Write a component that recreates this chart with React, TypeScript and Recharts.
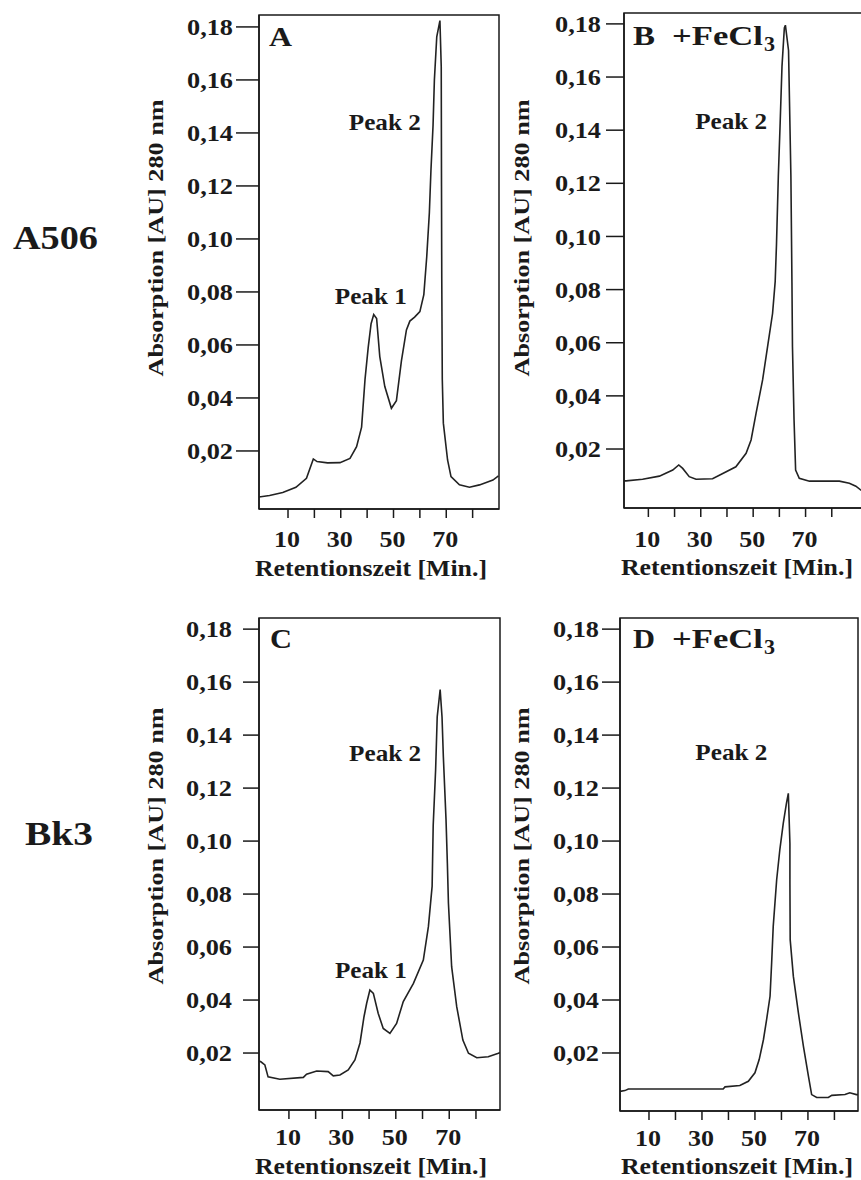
import { Line, LineChart, ReferenceArea, ReferenceDot, XAxis, YAxis } from 'recharts'

const serif = '"Liberation Serif", "Times New Roman", serif'
const ink = '#1a1a1a'

// A506 (Retentionszeit in Min., Absorption in AU)
const timeA = [-1, 3, 8, 13, 17, 19.6, 21, 25, 29.7, 33.5, 36, 37.9, 39.2, 40.4, 41.5, 42.5, 43.6, 44.8, 46.7, 49.2, 51.1, 53, 54.9, 56.2, 58, 60, 61.5, 62.6, 63.6, 64.2, 65, 65.5, 66.4, 67.6, 68.1, 68.2, 68.3, 68.5, 68.9, 70.5, 71.8, 75, 78.8, 82.6, 87.7, 89.8]
const absA = [0.0026, 0.0032, 0.0043, 0.0063, 0.0097, 0.017, 0.016, 0.0155, 0.0156, 0.0172, 0.0216, 0.029, 0.047, 0.059, 0.068, 0.0715, 0.07, 0.0556, 0.0443, 0.0361, 0.039, 0.054, 0.0657, 0.069, 0.0705, 0.0726, 0.079, 0.0933, 0.11, 0.126, 0.143, 0.16, 0.1763, 0.1824, 0.165, 0.12, 0.085, 0.047, 0.0305, 0.0166, 0.0103, 0.0072, 0.0063, 0.0072, 0.009, 0.0106]

// A506 + FeCl3
const timeB = [0.7, 1.5, 7.8, 14.2, 19.3, 21.6, 23.1, 25.6, 28.2, 34.5, 38.4, 43.4, 47.3, 49.2, 51.1, 53.6, 55.5, 57.4, 58.4, 58.9, 59.6, 60.3, 61, 61.9, 62.3, 63.5, 64.4, 64.8, 65, 65.6, 66.2, 67.6, 71.5, 82.9, 86.7, 89.2, 91, 92.3]
const absB = [0.008, 0.008, 0.0086, 0.0098, 0.0121, 0.014, 0.0127, 0.0096, 0.0086, 0.0088, 0.0108, 0.0133, 0.0184, 0.0234, 0.0334, 0.046, 0.0585, 0.071, 0.083, 0.097, 0.1226, 0.1427, 0.164, 0.1785, 0.1795, 0.17, 0.1226, 0.0825, 0.0585, 0.031, 0.0121, 0.009, 0.0079, 0.0079, 0.0071, 0.006, 0.0046, 0.004]

// Bk3
const timeC = [-1.2, -0.5, 1, 2.2, 6.6, 15.4, 16.6, 20.4, 24.7, 26.6, 29.1, 32.2, 34.7, 36.6, 38.1, 39.1, 40.3, 41.6, 43.4, 45.3, 47.8, 50.3, 52.8, 56.6, 60.3, 62.2, 63.6, 64, 64.9, 65.5, 66.6, 67.3, 67.8, 68.8, 69.3, 69.7, 70.9, 72.8, 75.1, 77.2, 80.3, 84.6, 88.4, 89]
const absC = [0.017, 0.0167, 0.0155, 0.011, 0.0101, 0.0108, 0.012, 0.0132, 0.013, 0.0114, 0.0117, 0.0136, 0.0174, 0.0238, 0.0337, 0.0388, 0.0438, 0.0425, 0.035, 0.0293, 0.0274, 0.0312, 0.0394, 0.0463, 0.0551, 0.0677, 0.083, 0.106, 0.1268, 0.1469, 0.1572, 0.1469, 0.1318, 0.108, 0.0916, 0.0765, 0.0526, 0.0375, 0.0249, 0.0199, 0.0182, 0.0186, 0.0199, 0.0202]

// Bk3 + FeCl3
const timeD = [-0.9, 0.9, 2.2, 38, 38.7, 44.3, 47.5, 50, 51.6, 53.2, 54.4, 55.7, 56.3, 56.9, 58.2, 59.4, 60.7, 61.9, 62.6, 63.2, 63.2, 63.3, 64.5, 66.4, 68.3, 70.2, 71.4, 73.3, 77.7, 79, 84, 85.8, 88.3, 88.9]
const absD = [0.0055, 0.0058, 0.0064, 0.0064, 0.0072, 0.0077, 0.0093, 0.0125, 0.0175, 0.025, 0.0326, 0.0414, 0.054, 0.0678, 0.0854, 0.0968, 0.1068, 0.1143, 0.118, 0.0992, 0.0842, 0.0628, 0.0489, 0.0351, 0.0225, 0.0112, 0.0043, 0.0032, 0.0032, 0.004, 0.0043, 0.005, 0.0043, 0.0043]

const absTicks = [0.02, 0.04, 0.06, 0.08, 0.1, 0.12, 0.14, 0.16, 0.18]
const timeTicks = [10, 20, 30, 40, 50, 60, 70, 80]
const timeLabels = [10, 30, 50, 70]

const rows = (t: number[], a: number[]) => t.map((x, i) => ({ t: x, a: a[i] }))

function AbsTick(props: any) {
  const { x, y, payload } = props
  return (
    <text x={x} y={y} dy="0.34em" textAnchor="end" fontFamily={serif} fontWeight="bold" fontSize={24} fill={ink} textLength={46} lengthAdjust="spacingAndGlyphs">
      {payload.value.toFixed(2).replace('.', ',')}
    </text>
  )
}

function TimeTick(props: any) {
  const { x, y, payload, dy } = props
  if (!timeLabels.includes(payload.value)) return <g />
  return (
    <text x={x - 1} y={y + dy} textAnchor="middle" fontFamily={serif} fontWeight="bold" fontSize={24} fill={ink} textLength={26} lengthAdjust="spacingAndGlyphs">
      {payload.value}
    </text>
  )
}

function PeakText(props: any) {
  const vb = props.viewBox
  if (!vb) return null
  return (
    <text x={vb.x + vb.width / 2} y={vb.y + vb.height / 2} textAnchor="middle" fontFamily={serif} fontWeight="bold" fontSize={24} fill={ink} textLength={72} lengthAdjust="spacingAndGlyphs">
      {props.text}
    </text>
  )
}

type Peak = { t: number; a: number; text: string }

function Panel(p: {
  left: number; top: number; width: number; mt: number; mr: number
  yWidth: number; xHeight: number; xDomain: [number, number]; yDomain: [number, number]
  time: number[]; abs: number[]; peaks: Peak[]; yTickSize: number; yTickMargin: number; xDy: number
}) {
  const data = rows(p.time, p.abs)
  return (
    <div style={{ position: 'absolute', left: p.left, top: p.top }}>
      <LineChart width={p.width} height={590} data={data} margin={{ top: p.mt, right: p.mr, bottom: 0, left: 0 }}>
        <XAxis
          type="number"
          dataKey="t"
          domain={p.xDomain}
          allowDataOverflow
          ticks={timeTicks}
          interval={0}
          height={p.xHeight}
          tickSize={9}
          tickMargin={0}
          axisLine={{ stroke: ink, strokeWidth: 1.5 }}
          tickLine={{ stroke: ink, strokeWidth: 1.5 }}
          tick={(tp: any) => <TimeTick {...tp} dy={p.xDy} />}
        />
        <YAxis
          type="number"
          domain={p.yDomain}
          allowDataOverflow
          ticks={absTicks}
          interval={0}
          width={p.yWidth}
          tickSize={p.yTickSize}
          tickMargin={p.yTickMargin}
          axisLine={{ stroke: ink, strokeWidth: 1.5 }}
          tickLine={{ stroke: ink, strokeWidth: 1.5 }}
          tick={AbsTick}
        />
        <ReferenceArea x1={p.xDomain[0]} x2={p.xDomain[1]} y1={p.yDomain[0]} y2={p.yDomain[1]} fill="none" stroke={ink} strokeWidth={1.5} ifOverflow="visible" />
        <Line type="linear" dataKey="a" stroke="#222" strokeWidth={1.6} dot={false} isAnimationActive={false} />
        {p.peaks.map((pk) => (
          <ReferenceDot key={pk.text + pk.t} x={pk.t} y={pk.a} r={1} fill="none" stroke="none" label={(lp: any) => <PeakText {...lp} text={pk.text} />} />
        ))}
      </LineChart>
    </div>
  )
}

const textStyle = { fontFamily: serif, fontWeight: 'bold' as const, fill: ink }

function YTitle({ x, y }: { x: number; y: number }) {
  return (
    <text x={x} y={y} transform={`rotate(-90 ${x} ${y})`} textAnchor="middle" fontSize={22} textLength={277} lengthAdjust="spacingAndGlyphs" {...textStyle}>
      Absorption [AU] 280 nm
    </text>
  )
}

function XTitle({ x, y }: { x: number; y: number }) {
  return (
    <text x={x} y={y} textAnchor="middle" fontSize={24} textLength={232} lengthAdjust="spacingAndGlyphs" {...textStyle}>
      Retentionszeit [Min.]
    </text>
  )
}

function FeLabel({ x, y, letter }: { x: number; y: number; letter: string }) {
  return (
    <g>
      <text x={x} y={y} fontSize={27} textLength={22} lengthAdjust="spacingAndGlyphs" {...textStyle}>{letter}</text>
      <text x={x + 39} y={y} fontSize={27} textLength={91} lengthAdjust="spacingAndGlyphs" {...textStyle}>+FeCl</text>
      <text x={x + 131} y={y + 6} fontSize={22} {...textStyle}>3</text>
    </g>
  )
}

export default function App() {
  return (
    <div style={{ position: 'absolute', left: 0, top: 0, width: 861, height: 1180, overflow: 'hidden', background: '#fff' }}>
      <Panel left={140} top={0} width={370} mt={15} mr={11} yWidth={119} xHeight={81} xDomain={[-1, 90]} yDomain={[-0.0019, 0.1845]}
        time={timeA} abs={absA} yTickSize={23} yTickMargin={3} xDy={29}
        peaks={[{ t: 46.7, a: 0.1411, text: 'Peak 2' }, { t: 41.4, a: 0.0755, text: 'Peak 1' }]} />
      <Panel left={510} top={0} width={360} mt={13} mr={6} yWidth={114} xHeight={82} xDomain={[0.7, 92.3]} yDomain={[-0.0022, 0.1841]}
        time={timeB} abs={absB} yTickSize={18} yTickMargin={5} xDy={30}
        peaks={[{ t: 41.6, a: 0.1405, text: 'Peak 2' }]} />
      <Panel left={140} top={590} width={370} mt={28} mr={10} yWidth={119} xHeight={70} xDomain={[-1.2, 89]} yDomain={[-0.0015, 0.1842]}
        time={timeC} abs={absC} yTickSize={16} yTickMargin={11} xDy={26}
        peaks={[{ t: 46, a: 0.1303, text: 'Peak 2' }, { t: 40.7, a: 0.0483, text: 'Peak 1' }]} />
      <Panel left={510} top={590} width={360} mt={28} mr={12} yWidth={110} xHeight={69} xDomain={[-0.94, 88.9]} yDomain={[-0.0019, 0.1842]}
        time={timeD} abs={absD} yTickSize={18} yTickMargin={3} xDy={26}
        peaks={[{ t: 41.1, a: 0.1307, text: 'Peak 2' }]} />
      <svg width={861} height={1180} style={{ position: 'absolute', left: 0, top: 0, pointerEvents: 'none' }}>
        <text x={13} y={249} fontSize={33} textLength={85} lengthAdjust="spacingAndGlyphs" {...textStyle}>A506</text>
        <text x={25} y={845} fontSize={33} textLength={68} lengthAdjust="spacingAndGlyphs" {...textStyle}>Bk3</text>
        <text x={269} y={46} fontSize={27} textLength={23} lengthAdjust="spacingAndGlyphs" {...textStyle}>A</text>
        <FeLabel x={633} y={45} letter="B" />
        <text x={270} y={648} fontSize={27} textLength={22} lengthAdjust="spacingAndGlyphs" {...textStyle}>C</text>
        <FeLabel x={633} y={648} letter="D" />
        <YTitle x={163} y={238} />
        <YTitle x={529} y={238} />
        <YTitle x={163} y={846} />
        <YTitle x={529} y={846} />
        <XTitle x={371} y={576} />
        <XTitle x={737} y={575} />
        <XTitle x={371} y={1174} />
        <XTitle x={737} y={1174} />
      </svg>
    </div>
  )
}
